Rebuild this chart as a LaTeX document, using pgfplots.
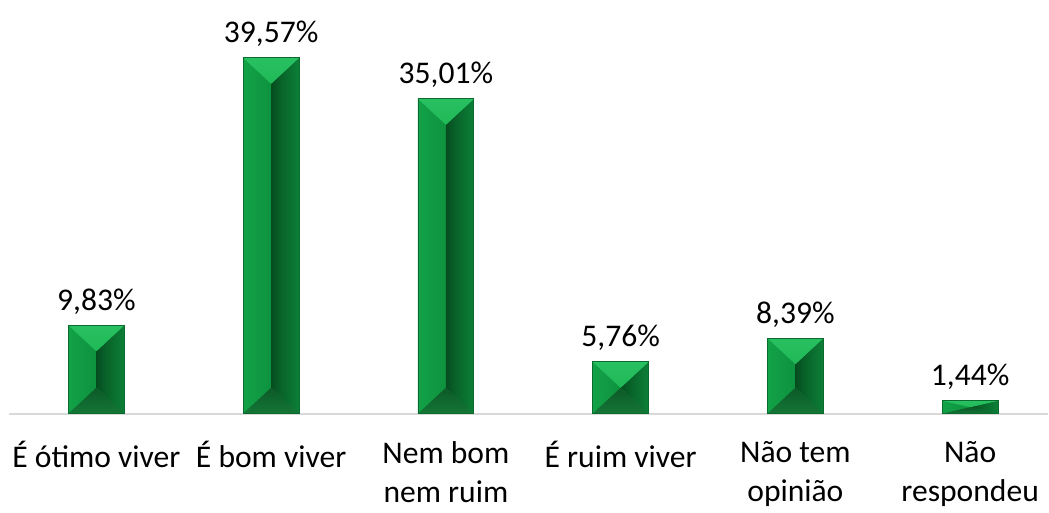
\documentclass[border=0pt]{standalone}
\usepackage{fontspec}
\setmainfont{Carlito}
\usepackage{pgfplots}
\pgfplotsset{compat=1.18}

\definecolor{faceL}{HTML}{14AA4C}
\definecolor{faceLd}{HTML}{0C8A3A}
\definecolor{faceR}{HTML}{0F9642}
\definecolor{core}{HTML}{002A0E}
\definecolor{faceT}{HTML}{1CB553}
\definecolor{faceTl}{HTML}{2CC465}
\definecolor{faceB}{HTML}{17863F}
\definecolor{faceBd}{HTML}{0A4A20}
\definecolor{edge}{HTML}{0B6B2E}
\definecolor{axisgray}{HTML}{D9D9D9}

\pgfdeclarehorizontalshading{leftface}{100bp}{color(0bp)=(faceL); color(100bp)=(faceLd)}
\pgfdeclarehorizontalshading{rightface}{100bp}{color(0bp)=(core); color(40bp)=(faceLd!70!black); color(100bp)=(faceR)}
\pgfdeclareverticalshading{topface}{100bp}{color(0bp)=(faceT); color(100bp)=(faceTl)}
\pgfdeclareverticalshading{botface}{100bp}{color(0bp)=(faceB); color(100bp)=(faceBd)}

% bevelled bar: drawn inside each bar's own outline
\tikzset{bevel/.style={path picture={%
  \pgfpointanchor{path picture bounding box}{south west}\pgfgetlastxy{\bx}{\by}%
  \pgfpointanchor{path picture bounding box}{north east}\pgfgetlastxy{\ex}{\ey}%
  \pgfmathsetlengthmacro{\bv}{min(13bp,0.5*(\ey-\by))}%
  \pgfmathsetlengthmacro{\mx}{0.5*(\bx+\ex)}%
  \pgfmathsetlengthmacro{\ta}{\ey-\bv}%
  \pgfmathsetlengthmacro{\ba}{\by+\bv}%
  \begin{pgfscope}
    \pgfpathmoveto{\pgfqpoint{\bx}{\by}}\pgfpathlineto{\pgfqpoint{\bx}{\ey}}%
    \pgfpathlineto{\pgfqpoint{\mx}{\ta}}\pgfpathlineto{\pgfqpoint{\mx}{\ba}}\pgfpathclose
    \pgfshadepath{leftface}{0}\pgfusepath{}%
  \end{pgfscope}
  \begin{pgfscope}
    \pgfpathmoveto{\pgfqpoint{\ex}{\by}}\pgfpathlineto{\pgfqpoint{\ex}{\ey}}%
    \pgfpathlineto{\pgfqpoint{\mx}{\ta}}\pgfpathlineto{\pgfqpoint{\mx}{\ba}}\pgfpathclose
    \pgfshadepath{rightface}{0}\pgfusepath{}%
  \end{pgfscope}
  \begin{pgfscope}
    \pgfpathmoveto{\pgfqpoint{\bx}{\ey}}\pgfpathlineto{\pgfqpoint{\ex}{\ey}}%
    \pgfpathlineto{\pgfqpoint{\mx}{\ta}}\pgfpathclose
    \pgfshadepath{topface}{0}\pgfusepath{}%
  \end{pgfscope}
  \begin{pgfscope}
    \pgfpathmoveto{\pgfqpoint{\bx}{\by}}\pgfpathlineto{\pgfqpoint{\ex}{\by}}%
    \pgfpathlineto{\pgfqpoint{\mx}{\ba}}\pgfpathclose
    \pgfshadepath{botface}{0}\pgfusepath{}%
  \end{pgfscope}
}}}
\tikzset{bar3d/.style={draw=edge, line width=0.4bp, fill=faceL, bevel}}

\begin{document}
\begin{tikzpicture}
\begin{axis}[
    ybar,
    bar shift=0pt,
    scale only axis,
    width=520bp, height=207bp,
    xmin=-0.5, xmax=5.446,
    ymin=0, ymax=46,
    bar width=28bp,
    axis y line=none,
    axis x line*=bottom,
    x axis line style={draw=axisgray, line width=0.9bp, -},
    xtick={0,1,2,3,4,5},
    xticklabels={{É ótimo viver},{É bom viver},{Nem bom\\nem ruim},{É ruim viver},{Não tem\\opinião},{Não\\respondeu}},
    xtick style={draw=none},
    xticklabel style={align=center, font=\fontsize{15.8bp}{19.5bp}\selectfont, yshift=-6bp},
    /pgf/number format/assume math mode=true,
    clip=false,
]
% one plot per bar so each bar gets its own bevel
\addplot[bar3d] coordinates {(0, 9.83)};
\addplot[bar3d] coordinates {(1, 39.57)};
\addplot[bar3d] coordinates {(2, 35.01)};
\addplot[bar3d] coordinates {(3, 5.76)};
\addplot[bar3d] coordinates {(4, 8.39)};
\addplot[bar3d] coordinates {(5, 1.44)};
% value labels
\addplot[draw=none, fill=none,
    nodes near coords={\pgfmathprintnumber[fixed,zerofill,precision=2,use comma]{\pgfplotspointmeta}\%},
    nodes near coords style={font=\fontsize{15.8bp}{19bp}\selectfont, anchor=south, yshift=2bp, text=black},
  ] coordinates {
    (0, 9.83)
    (1, 39.57)
    (2, 35.01)
    (3, 5.76)
    (4, 8.39)
    (5, 1.44)
};
\path[use as bounding box] (rel axis cs:-0.00865,-0.2367) rectangle (rel axis cs:1,1);
\end{axis}
\end{tikzpicture}
\end{document}
